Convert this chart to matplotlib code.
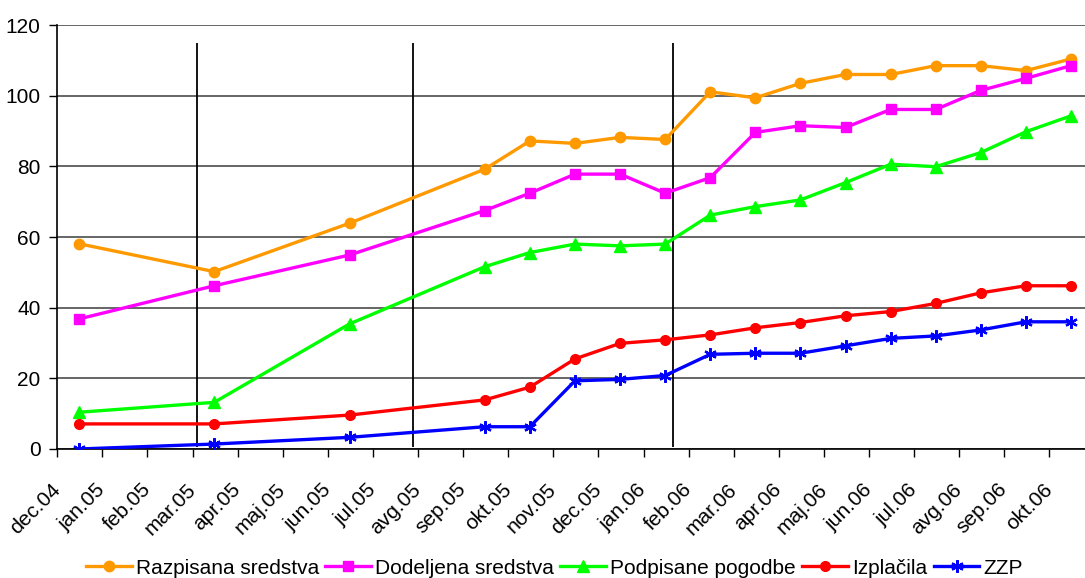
import matplotlib.pyplot as plt
from matplotlib import transforms

plt.rcParams["font.family"] = ["Liberation Sans", "DejaVu Sans"]
plt.rcParams["font.size"] = 15

# Month axis labels
months = [
    "dec.04", "jan.05", "feb.05", "mar.05", "apr.05", "maj.05", "jun.05",
    "jul.05", "avg.05", "sep.05", "okt.05", "nov.05", "dec.05", "jan.06",
    "feb.06", "mar.06", "apr.06", "maj.06", "jun.06", "jul.06", "avg.06",
    "sep.06", "okt.06",
]

# Months in which the values were reported
report_months = [
    "dec.04", "mar.05", "jun.05", "sep.05", "okt.05", "nov.05", "dec.05",
    "jan.06", "feb.06", "mar.06", "apr.06", "maj.06", "jun.06", "jul.06",
    "avg.06", "sep.06", "okt.06",
]

razpisana = [58.1, 50.2, 63.9, 79.2, 87.2, 86.5, 88.2, 87.6, 101.1, 99.4,
             103.5, 106.0, 106.0, 108.5, 108.5, 107.1, 110.4]
dodeljena = [36.8, 46.2, 54.9, 67.5, 72.4, 77.8, 77.8, 72.4, 76.8, 89.6,
             91.5, 91.0, 96.1, 96.1, 101.5, 104.9, 108.5]
podpisane = [10.4, 13.2, 35.4, 51.6, 55.6, 58.0, 57.5, 58.0, 66.2, 68.6,
             70.5, 75.4, 80.6, 79.9, 83.9, 89.8, 94.3]
izplacila = [7.1, 7.1, 9.6, 13.9, 17.5, 25.5, 29.9, 30.9, 32.3, 34.3,
             35.8, 37.7, 38.9, 41.2, 44.2, 46.2, 46.2]
zzp = [0.0, 1.4, 3.3, 6.3, 6.3, 19.3, 19.7, 20.8, 26.8, 27.1,
       27.1, 29.2, 31.3, 32.0, 33.7, 36.0, 36.0]

# Separator lines between periods (in month units)
periods = [3.10, 7.89, 13.66]

x = [months.index(m) + 0.48 for m in report_months]

fig = plt.figure(figsize=(10.85, 5.78), dpi=100)
ax = fig.add_axes([0.0528, 0.2232, 0.9472, 0.7335])

ax.set_axisbelow(True)
ax.yaxis.grid(True, color="#3c3c3c", linewidth=1.1)

ax.vlines(periods, 0.5, 115, color="black", linewidth=1.3, zorder=1)

ax.plot(x, razpisana, color="#FF9900", lw=2.4, marker="o", ms=7.5,
        label="Razpisana sredstva", zorder=3)
ax.plot(x, dodeljena, color="#FF00FF", lw=2.4, marker="s", ms=7,
        label="Dodeljena sredstva", zorder=3)
ax.plot(x, podpisane, color="#00FF00", lw=2.4, marker="^", ms=8.5,
        label="Podpisane pogodbe", zorder=3)
ax.plot(x, izplacila, color="#FF0000", lw=2.4, marker="o", ms=7,
        label="Izplačila", zorder=3)
ax.plot(x, zzp, color="#0000FF", lw=2.4, marker=(6, 2, 0), ms=9, mew=1.6,
        label="ZZP", zorder=3)

ax.set_xlim(0, 22.79)
ax.set_ylim(0, 120)
ax.set_yticks(range(0, 121, 20))
ax.set_xticks(range(len(months)))
ax.set_xticklabels(months, rotation=45, ha="right", va="center",
                   rotation_mode="anchor")

# nudge rotated labels so their ends sit just right of the ticks
offset = transforms.ScaledTranslation(27 / 100, 0, fig.dpi_scale_trans)
for lbl in ax.get_xticklabels():
    lbl.set_transform(lbl.get_transform() + offset)

ax.tick_params(axis="both", direction="out", length=6, width=1, color="black")
ax.tick_params(axis="x", pad=21)
ax.tick_params(axis="y", pad=6)

for side in ["top", "right"]:
    ax.spines[side].set_visible(False)
for side in ["left", "bottom"]:
    ax.spines[side].set_color("black")
    ax.spines[side].set_linewidth(1.2)

fig.legend(loc="center", bbox_to_anchor=(0.511, 0.017), ncol=5,
           frameon=False, handlelength=2.2, handletextpad=0.2,
           columnspacing=0.3, borderaxespad=0)

fig.savefig("out.png", dpi=100)
